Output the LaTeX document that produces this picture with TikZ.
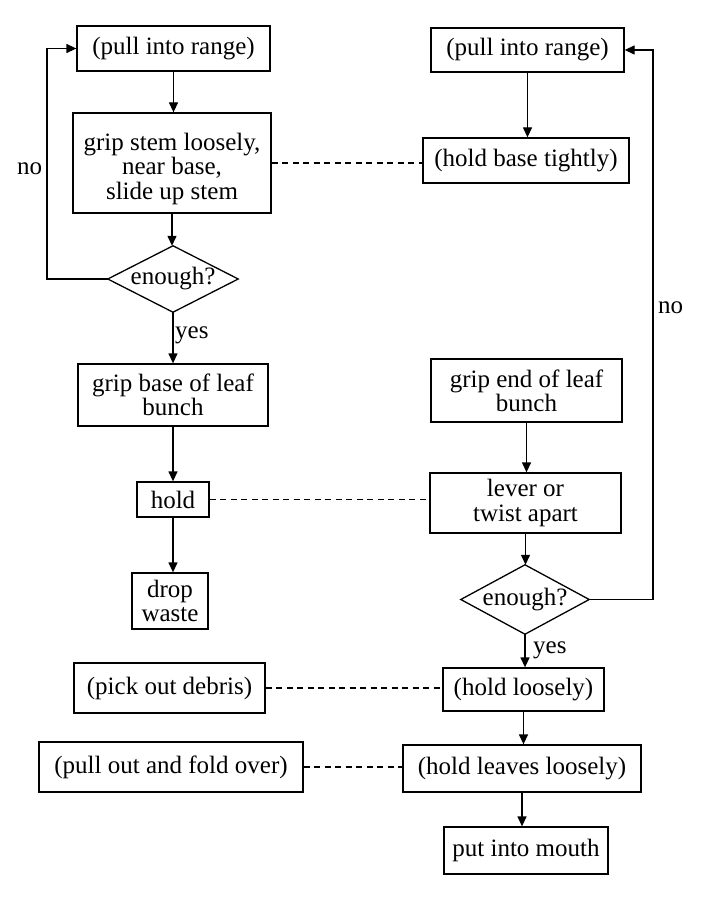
\documentclass[tikz,border=0pt]{standalone}
\usepackage{fontspec}
\setmainfont{Liberation Serif}
\usetikzlibrary{arrows.meta}
\newcommand{\lowered}[2]{\raisebox{-#1}[\height][\depth]{\setlength{\tabcolsep}{0pt}\begin{tabular}{c}#2\end{tabular}}}
\begin{document}
\begin{tikzpicture}[x=1pt,y=-1pt,
  txt/.style={font=\fontsize{25}{24.5}\selectfont},
  box/.style={txt, draw, line width=1.3pt, inner sep=0pt, align=center},
  dmd/.style={txt, inner sep=0pt, align=center},
  arr/.style={line width=1.3pt, -{Triangle[length=10pt,width=9pt]}},
  link/.style={line width=1.2pt, dash pattern=on 6pt off 4.5pt},
  lab/.style={txt, inner sep=0pt, anchor=base west}]
\useasboundingbox (0,0) rectangle (703,901);
\fill[white] (0,0) rectangle (703,901);

% left column
\node[box, minimum width=193pt, minimum height=45pt] (L1) at (173.5,48.5) {(pull into range)};
\node[box, minimum width=198pt, minimum height=100pt] (L2) at (172,163) {\lowered{7pt}{grip stem loosely,\\near base,\\slide up stem}};
\node[dmd, minimum width=130pt, minimum height=66pt] (L3) at (173,279) {enough?};
\draw[line width=1.3pt] (L3.west) -- (L3.north) -- (L3.east) -- (L3.south) -- cycle;
\node[box, minimum width=190pt, minimum height=62pt] (L4) at (173,395) {grip base of leaf\\bunch};
\node[box, minimum width=72pt, minimum height=35pt] (L5) at (173,499.5) {hold};
\node[box, minimum width=76pt, minimum height=56pt] (L6) at (170,601) {drop\\waste};

% right column
\node[box, minimum width=193pt, minimum height=44pt] (R1) at (527.5,50) {(pull into range)};
\node[box, minimum width=206pt, minimum height=45pt] (R2) at (526,160.5) {(hold base tightly)};
\node[box, minimum width=191pt, minimum height=63pt] (R3) at (526.5,390.5) {\lowered{4pt}{grip end of leaf\\bunch}};
\node[box, minimum width=191pt, minimum height=60pt] (R4) at (525.5,503) {lever or\\twist apart};
\node[dmd, minimum width=128pt, minimum height=69pt] (R5) at (525,599.5) {enough?};
\draw[line width=1.3pt] (R5.west) -- (R5.north) -- (R5.east) -- (R5.south) -- cycle;
\node[box, minimum width=161pt, minimum height=43pt] (R6) at (523.5,689.5) {(hold loosely)};
\node[box, minimum width=238pt, minimum height=47pt] (R7) at (522,768.5) {(hold leaves loosely)};
\node[box, minimum width=164pt, minimum height=47pt] (R8) at (526,850.5) {put into mouth};

% bottom left
\node[box, minimum width=191pt, minimum height=50pt] (P1) at (169.5,688) {(pick out debris)};
\node[box, minimum width=264pt, minimum height=50pt] (P2) at (171,767) {(pull out and fold over)};

% arrows left
\draw[arr] (L1.south) -- (L1.south |- L2.north);
\draw[arr] (L2.south) -- (L2.south |- L3.north);
\draw[arr] (L3.south) -- (L3.south |- L4.north);
\draw[arr] (L4.south) -- (L4.south |- L5.north);
\draw[arr] (L5.south) -- (L5.south |- L6.north);
\coordinate (lc) at (47,279);
\draw[arr] (L3.west) -- (lc) |- (L1.west);

% arrows right
\draw[arr] (R1.south) -- (R1.south |- R2.north);
\draw[arr] (R3.south) -- (R3.south |- R4.north);
\draw[arr] (R4.south) -- (R4.south |- R5.north);
\draw[arr] (R5.south) -- (R5.south |- R6.north);
\draw[arr] (R6.south) -- (R6.south |- R7.north);
\draw[arr] (R7.south) -- (R7.south |- R8.north);
\coordinate (rc) at (653,599.5);
\draw[arr] (R5.east) -- (rc) |- (R1.east);

% dashed links
\draw[link] (L2.east) -- (L2.east -| R2.west);
\draw[link] (L5.east) -- (L5.east -| R4.west);
\draw[link] (P1.east) -- (P1.east -| R6.west);
\draw[link] (P2.east) -- (P2.east -| R7.west);

% labels
\node[lab] (nol) at (17,175) {no};
\node[lab] (nor) at (658,313) {no};
\node[lab] (yesl) at (175,338) {yes};
\node[lab] (yesr) at (533,653) {yes};
\end{tikzpicture}
\end{document}
